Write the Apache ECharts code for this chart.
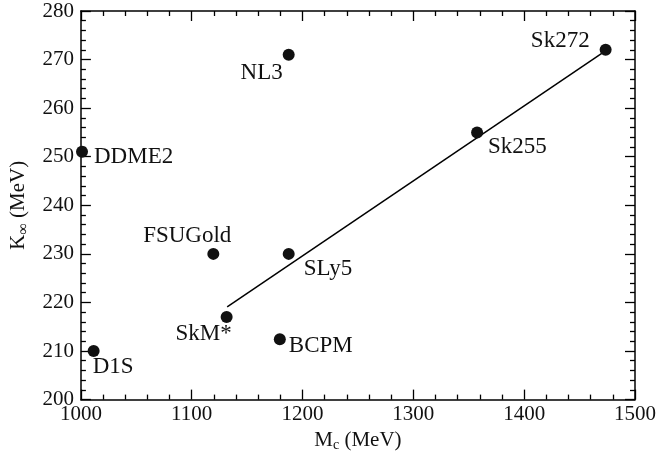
<!DOCTYPE html>
<html>
<head>
<meta charset="utf-8">
<script src="https://cdn.jsdelivr.net/npm/echarts@6/dist/echarts.min.js"></script>
<style>
html,body{margin:0;padding:0;background:#fff;}
#chart{width:659px;height:457px;}
</style>
</head>
<body>
<div id="chart"></div>
<script>
// Data
const names = ['D1S','DDME2','FSUGold','NL3','SkM*','BCPM','SLy5','Sk255','Sk272'];
const mc    = [1011.5, 1001, 1119.5, 1187.5, 1131.5, 1179.5, 1187.5, 1357.5, 1473.5];
const kinf  = [210, 251, 230, 271, 217, 212.4, 230, 255, 272];
const fitX  = [1132, 1474];
const fitY  = [219.1, 271.9];
const xTicks = [1000, 1100, 1200, 1300, 1400, 1500];
const yTicks = [200, 210, 220, 230, 240, 250, 260, 270, 280];

// label placement (style only)
const labelStyle = {
  'D1S':     {align:'left',   offset:[-1, 16]},
  'DDME2':   {align:'left',   offset:[12, 5]},
  'FSUGold': {align:'right',  offset:[18, -18]},
  'NL3':     {align:'right',  offset:[-6, 18]},
  'SkM*':    {align:'right',  offset:[5, 17]},
  'BCPM':    {align:'left',   offset:[9, 6.5]},
  'SLy5':    {align:'left',   offset:[15, 15]},
  'Sk255':   {align:'left',   offset:[11, 15]},
  'Sk272':   {align:'right',  offset:[-16, -8.5]}
};

const FONT = '"Liberation Serif","Times New Roman",serif';
const INK = '#111';
const chart = echarts.init(document.getElementById('chart'), null, {renderer:'canvas'});

const pts = names.map((n,i)=>({
  value:[mc[i], kinf[i]],
  name:n,
  label:{show:true, position:'inside', formatter:n,
    align:labelStyle[n].align, verticalAlign:'middle', offset:labelStyle[n].offset}
}));

const axisCommon = {
  axisLine:{show:true, onZero:false, lineStyle:{color:'#000', width:1.5}},
  axisTick:{show:true, inside:true, length:10, lineStyle:{color:'#000', width:1.3}},
  minorTick:{show:true, splitNumber:5, length:5, lineStyle:{color:'#000', width:1.3}},
  splitLine:{show:false},
  minorSplitLine:{show:false}
};

chart.setOption({
  animation:false,
  backgroundColor:'#fff',
  textStyle:{fontFamily:FONT},
  grid:{left:79, right:22, top:11, bottom:56, containLabel:false},
  xAxis:[
    Object.assign({}, axisCommon, {
      type:'value', min:xTicks[0], max:xTicks[xTicks.length-1], interval:100, position:'bottom',
      axisLabel:{color:INK, fontSize:21, fontFamily:FONT, margin:4, formatter:v=>String(v)},
      name:'{a|M}{s|c}{a| (MeV)}', nameLocation:'middle', nameGap:26,
      nameTextStyle:{rich:{
        a:{fontSize:21, fontFamily:FONT, color:INK},
        s:{fontSize:14, fontFamily:FONT, color:INK, verticalAlign:'bottom', padding:[10,0,0,0]}
      }}
    }),
    Object.assign({}, axisCommon, {
      type:'value', min:xTicks[0], max:xTicks[xTicks.length-1], interval:100, position:'top',
      axisLabel:{show:false}
    })
  ],
  yAxis:[
    Object.assign({}, axisCommon, {
      type:'value', min:yTicks[0], max:yTicks[yTicks.length-1], interval:10, position:'left',
      axisLabel:{color:INK, fontSize:21, fontFamily:FONT, margin:7, formatter:v=>String(v)},
      name:'{a|K}{s|∞}{a| (MeV)}', nameLocation:'middle', nameGap:46, nameRotate:90,
      nameTextStyle:{rich:{
        a:{fontSize:21, fontFamily:FONT, color:INK},
        s:{fontSize:16, fontFamily:FONT, color:INK, padding:[10,0,0,0]}
      }}
    }),
    Object.assign({}, axisCommon, {
      type:'value', min:yTicks[0], max:yTicks[yTicks.length-1], interval:10, position:'right',
      axisLabel:{show:false}
    })
  ],
  series:[
    {
      type:'line', xAxisIndex:0, yAxisIndex:0,
      data: fitX.map((x,i)=>[x, fitY[i]]),
      showSymbol:false, symbol:'none',
      lineStyle:{color:'#000', width:1.5},
      silent:true, z:2
    },
    {
      type:'scatter', xAxisIndex:0, yAxisIndex:0,
      data: pts,
      symbol:'circle', symbolSize:12,
      itemStyle:{color:'#111', opacity:1},
      label:{color:INK, fontSize:23, fontFamily:FONT, opacity:1, textBorderWidth:0},
      emphasis:{disabled:true},
      z:3
    }
  ]
});
</script>
</body>
</html>
